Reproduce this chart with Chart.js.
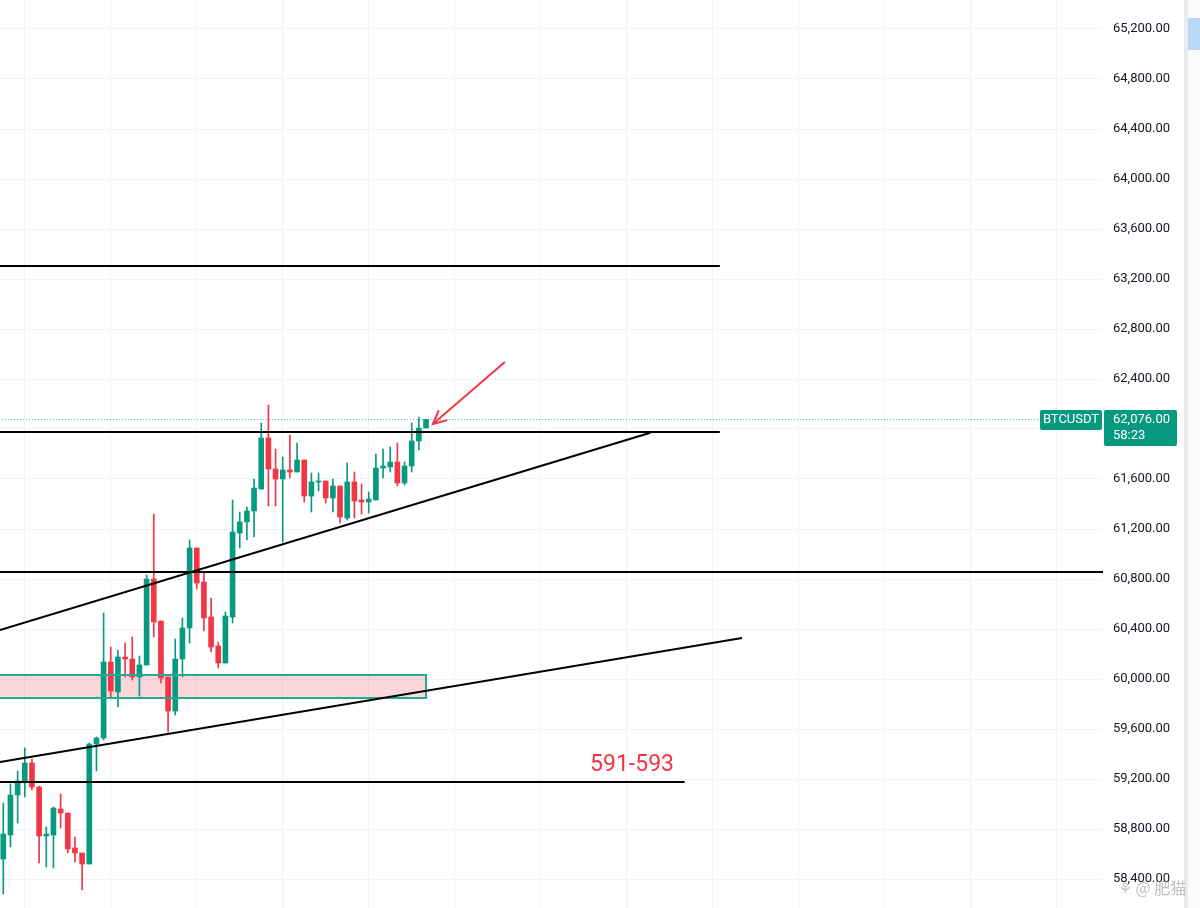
<!DOCTYPE html>
<html lang="en">
<head>
<meta charset="UTF-8">
<title>BTCUSDT 1h</title>
<script src="https://cdn.jsdelivr.net/npm/chart.js"></script>
<style>
  html, body { margin: 0; padding: 0; background: #fff; }
  #wrap { width: 1200px; height: 908px; }
</style>
</head>
<body>
<div id="wrap"><canvas id="chart" width="1200" height="908"></canvas></div>
<script>
// candles, oldest first (x = bar index)
const opens  = [58560, 58752, 59072, 59184, 59328, 59136, 58744, 58752, 58960, 58928,
                58648, 58608, 58520, 59480, 59528, 60136, 59896, 60176, 60160, 60016,
                60112, 60800, 60464, 60016, 59744, 60160, 60408, 61048, 60776, 60496,
                60264, 60128, 60496, 61168, 61256, 61344, 61520, 61928, 61680, 61600,
                61672, 61656, 61752, 61464, 61576, 61584, 61448, 61544, 61288, 61576,
                61432, 61416, 61432, 61688, 61696, 61736, 61568, 61704, 61904, 62008];
const highs  = [59008, 59160, 59264, 59448, 59360, 59144, 58816, 58976, 59080, 58928,
                58736, 58608, 59488, 59536, 60528, 60256, 60232, 60288, 60336, 60184,
                60832, 61320, 60464, 60016, 60320, 60488, 61112, 61048, 60848, 60648,
                60296, 60536, 61432, 61336, 61376, 61600, 62048, 62192, 61840, 61776,
                61952, 61888, 61752, 61648, 61648, 61584, 61600, 61544, 61728, 61656,
                61560, 61496, 61800, 61840, 61856, 61888, 61736, 62048, 62096, 62080];
const lows   = [58280, 58656, 58848, 59056, 59112, 58528, 58496, 58488, 58808, 58608,
                58536, 58312, 58520, 59264, 59512, 59856, 59776, 60016, 59992, 59864,
                60112, 60336, 59968, 59576, 59712, 60016, 60288, 60720, 60384, 60216,
                60088, 60128, 60448, 61048, 61112, 61136, 61520, 61384, 61384, 61096,
                61608, 61656, 61416, 61336, 61504, 61408, 61336, 61248, 61272, 61288,
                61320, 61328, 61432, 61608, 61656, 61544, 61552, 61656, 61832, 62008];
const closes = [58760, 59072, 59184, 59328, 59136, 58744, 58760, 58968, 58928, 58640,
                58608, 58520, 59480, 59528, 60136, 59904, 60176, 60160, 60016, 60112,
                60800, 60456, 60008, 59744, 60160, 60408, 61048, 60768, 60488, 60256,
                60128, 60504, 61176, 61256, 61344, 61528, 61928, 61680, 61600, 61672,
                61656, 61752, 61464, 61576, 61584, 61448, 61544, 61296, 61576, 61424,
                61416, 61440, 61688, 61704, 61736, 61568, 61704, 61904, 62008, 62076];

const yTicks = [58400, 58800, 59200, 59600, 60000, 60400, 60800, 61200, 61600,
                62000, 62400, 62800, 63200, 63600, 64000, 64400, 64800, 65200];
const xGrid  = [3, 15, 27, 39, 51, 63, 75, 87, 99, 111, 123, 135, 147];

// drawings, in (bar index, price)
const resistTop  = [{x: -1, y: 63304}, {x: 100, y: 63304}];
const resistMid  = [{x: -1, y: 61976}, {x: 100, y: 61976}];
const channelUp  = [{x: -0.46, y: 60392}, {x: 90.3, y: 61970}];
const supportMid = [{x: -1, y: 60856}, {x: 154, y: 60856}];
const channelLow = [{x: -0.46, y: 59336}, {x: 103.1, y: 60328}];
const supportLow = [{x: -1, y: 59176}, {x: 95.1, y: 59176}];
const zoneTop = 60032, zoneBottom = 59848, zoneStart = -1, zoneEnd = 59;
const arrowLine  = [{x: 70, y: 62536}, {x: 59.96, y: 62040}];
const noteText = '591-593', notePos = {x: 87.75, y: 59264};

const UP = '#089981', DOWN = '#f23645';
const idx = opens.map((_, i) => i);
const candleColors = idx.map(i => closes[i] >= opens[i] ? UP : DOWN);
const last = closes[closes.length - 1];
const fmt = v => v.toLocaleString('en-US', {minimumFractionDigits: 2, maximumFractionDigits: 2});

function lineSet(data, extra) {
  return Object.assign({
    type: 'line', data, borderColor: '#000', borderWidth: 2,
    pointRadius: 0, fill: false, tension: 0, order: 0
  }, extra || {});
}

const overlay = {
  id: 'overlay',
  afterDraw(chart) {
    const ctx = chart.ctx, x = chart.scales.x, y = chart.scales.y;
    ctx.save();

    // arrow head
    const p1 = {x: x.getPixelForValue(arrowLine[0].x), y: y.getPixelForValue(arrowLine[0].y)};
    const p2 = {x: x.getPixelForValue(arrowLine[1].x), y: y.getPixelForValue(arrowLine[1].y)};
    const ang = Math.atan2(p2.y - p1.y, p2.x - p1.x);
    ctx.strokeStyle = DOWN; ctx.lineWidth = 2; ctx.lineCap = 'round';
    ctx.beginPath();
    ctx.moveTo(p2.x - 14 * Math.cos(ang - 0.45), p2.y - 14 * Math.sin(ang - 0.45));
    ctx.lineTo(p2.x, p2.y);
    ctx.lineTo(p2.x - 14 * Math.cos(ang + 0.45), p2.y - 14 * Math.sin(ang + 0.45));
    ctx.stroke();

    // note
    ctx.fillStyle = DOWN;
    ctx.font = '23px Roboto';
    ctx.textAlign = 'center'; ctx.textBaseline = 'alphabetic';
    ctx.fillText(noteText, x.getPixelForValue(notePos.x), y.getPixelForValue(notePos.y));

    // last price labels
    const py = Math.round(y.getPixelForValue(last));
    ctx.fillStyle = UP;
    ctx.beginPath(); ctx.roundRect(1040, py - 9, 62, 20, 2); ctx.fill();
    ctx.beginPath(); ctx.roundRect(1104, py - 9, 73, 36, 2); ctx.fill();
    ctx.fillStyle = '#fff';
    ctx.font = '13px Roboto';
    ctx.textBaseline = 'middle';
    ctx.textAlign = 'center';
    ctx.fillText('BTCUSDT', 1071, py + 1);
    ctx.textAlign = 'left';
    ctx.fillText(fmt(last), 1113, py + 1);
    ctx.fillText('58:23', 1113, py + 17);

    // right toolbar strip
    ctx.fillStyle = '#e9eaed';
    ctx.fillRect(1184, 0, 4, chart.height);
    ctx.fillStyle = '#fbfbfc';
    ctx.fillRect(1188, 0, 12, chart.height);
    ctx.fillStyle = '#bbd7f8';
    ctx.fillRect(1188, 18, 12, 32);

    // watermark
    ctx.fillStyle = 'rgba(140,140,140,0.55)';
    ctx.font = '16px "Noto Sans CJK SC"';
    ctx.textAlign = 'left';
    ctx.fillText('\u2698 @ 肥猫', 1118, 888);
    ctx.restore();
  }
};

new Chart(document.getElementById('chart'), {
  type: 'bar',
  data: {
    datasets: [
      lineSet(resistTop),
      lineSet(resistMid),
      lineSet(channelUp),
      lineSet(supportMid),
      lineSet(channelLow),
      lineSet(supportLow),
      lineSet([{x: zoneStart, y: zoneTop}, {x: zoneEnd, y: zoneTop},
               {x: zoneEnd, y: zoneBottom}, {x: zoneStart, y: zoneBottom}],
              {borderColor: '#22ab94', borderWidth: 2}),
      lineSet(arrowLine, {borderColor: DOWN, borderWidth: 2}),
      {
        type: 'bar', order: 1, grouped: false,
        data: idx.map(i => ({x: i, y: [opens[i], closes[i]]})),
        backgroundColor: candleColors, borderWidth: 0,
        barPercentage: 1, categoryPercentage: 1, maxBarThickness: 5, minBarLength: 1
      },
      {
        type: 'bar', order: 2, grouped: false,
        data: idx.map(i => ({x: i, y: [lows[i], highs[i]]})),
        backgroundColor: candleColors, borderWidth: 0,
        barPercentage: 1, categoryPercentage: 1, maxBarThickness: 1
      },
      lineSet([{x: zoneStart, y: zoneTop}, {x: zoneEnd, y: zoneTop}],
              {borderWidth: 0, fill: {value: zoneBottom}, backgroundColor: 'rgba(242,54,69,0.2)', order: 3}),
      lineSet([{x: -1, y: last}, {x: 154, y: last}],
              {borderColor: 'rgba(8,153,129,0.7)', borderWidth: 1, borderDash: [1, 2], order: 4})
    ]
  },
  options: {
    responsive: false,
    animation: false,
    layout: {padding: 0},
    plugins: {legend: {display: false}, tooltip: {enabled: false}},
    scales: {
      x: {
        type: 'linear', min: -0.46, max: 153.48, offset: false,
        grid: {color: '#f0f3fa', drawTicks: false, offset: false},
        border: {display: false},
        ticks: {display: false},
        afterBuildTicks: s => { s.ticks = xGrid.map(v => ({value: v})); },
        afterFit: s => { s.height = 0; }
      },
      y: {
        position: 'right', min: 58168, max: 65432,
        grid: {color: '#f0f3fa', drawTicks: false},
        border: {display: false},
        ticks: {
          color: '#131722', padding: 10,
          font: {family: 'Roboto', size: 13},
          callback: v => fmt(v)
        },
        afterBuildTicks: s => { s.ticks = yTicks.map(v => ({value: v})); },
        afterFit: s => { s.width = 97; s.paddingTop = 0; s.paddingBottom = 0; }
      }
    }
  },
  plugins: [overlay]
});
</script>
</body>
</html>
